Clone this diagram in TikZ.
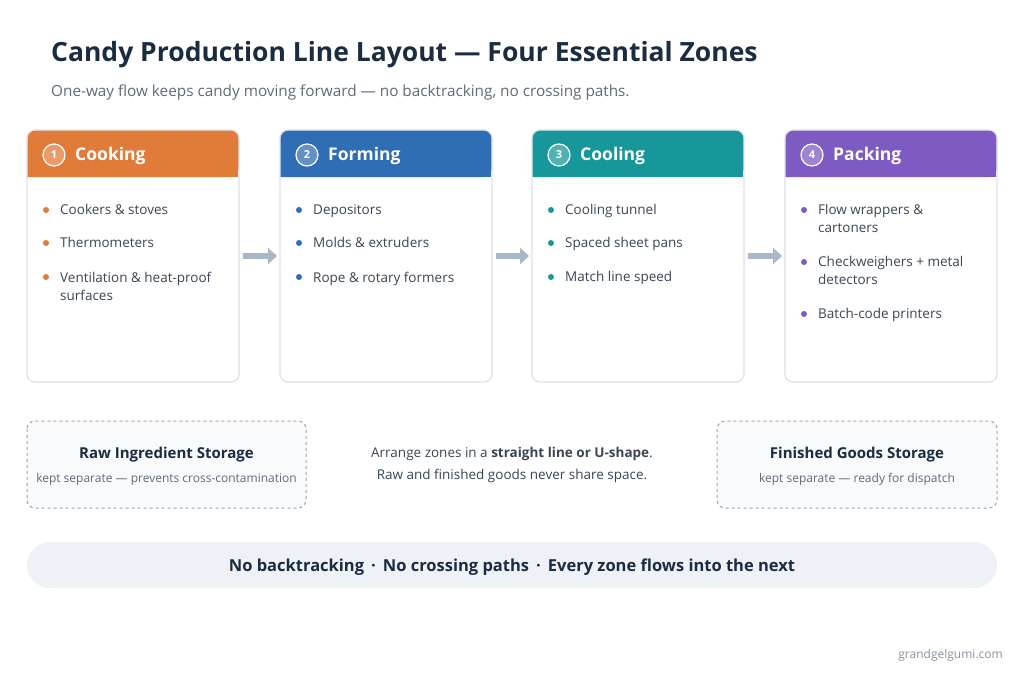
\documentclass[tikz,border=0pt]{standalone}
\usepackage{fontspec}
\setmainfont{Open Sans}
\usetikzlibrary{arrows.meta}
\definecolor{navy}{HTML}{1B2B40}
\definecolor{subgray}{HTML}{5F6B78}
\definecolor{txt}{HTML}{3A4654}
\definecolor{cookc}{HTML}{E07B39}
\definecolor{formc}{HTML}{2F6DB5}
\definecolor{coolc}{HTML}{17979A}
\definecolor{packc}{HTML}{7E5BC2}
\definecolor{edge}{HTML}{DCE2EA}
\definecolor{pill}{HTML}{EEF2F7}
\definecolor{arr}{HTML}{A9B8C8}
\newcommand{\fs}[2][1.2]{\fontsize{#2}{#1\dimexpr #2pt\relax}\selectfont}
\tikzset{
  card/.style={draw=edge, line width=1.2pt, rounded corners=8pt, fill=white},
  item/.style={anchor=west, text=txt, font=\fontsize{13.5}{18}\selectfont, align=left, inner sep=0pt},
  zonearrow/.style={-{Triangle[length=9pt,width=16pt]}, line width=6pt, draw=arr},
  store/.style={draw=arr!90!black, dashed, line width=1pt, rounded corners=8pt, fill=pill!40},
}
\begin{document}
\begin{tikzpicture}[x=1pt,y=-1pt]
\useasboundingbox (0,0) rectangle (1024,683);
\fill[white] (0,0) rectangle (1024,683);
% title
\node[anchor=west, text=navy, font=\fs{26.5}\bfseries, inner sep=0pt] (title) at (51,55) {Candy Production Line Layout — Four Essential Zones};
\node[anchor=west, text=subgray, font=\fs{15.3}, inner sep=0pt] (subtitle) at (51,92) {One-way flow keeps candy moving forward — no backtracking, no crossing paths.};
% zone cards
\foreach \x/\n/\name/\col in {27/1/Cooking/cookc, 280/2/Forming/formc, 532/3/Cooling/coolc, 785/4/Packing/packc} {
  \draw[card] (\x,130) rectangle ++(212,252);
  \fill[\col, rounded corners=8pt] (\x+0.6,130.6) -- (\x+211.4,130.6) -- (\x+211.4,177) [sharp corners] -- (\x+0.6,177) [rounded corners=8pt] -- cycle;
  \fill[\col, sharp corners] (\x+0.6,165) rectangle (\x+211.4,177);
  \node[circle, draw=white, line width=1.2pt, fill=white!25!\col, text=white, font=\fs{11}\bfseries, minimum size=22pt, inner sep=0pt] (num\n) at (\x+27,155) {\n};
  \node[anchor=west, text=white, font=\fs{17.5}\bfseries, inner sep=0pt] (head\n) at (\x+48,156) {\name};
}
% items
\foreach \x/\n/\col/\a/\ay/\b/\by/\c/\cy in {
  27/1/cookc/{Cookers \& stoves}/210/{Thermometers}/243/{Ventilation \& heat-proof\\surfaces}/277,
  280/2/formc/{Depositors}/210/{Molds \& extruders}/243/{Rope \& rotary formers}/277,
  532/3/coolc/{Cooling tunnel}/210/{Spaced sheet pans}/243/{Match line speed}/277,
  785/4/packc/{Flow wrappers \&\\cartoners}/210/{Checkweighers + metal\\detectors}/262/{Batch-code printers}/314} {
  \node[item, anchor=north west] (a\n) at (\x+33,\ay-5.5) {\a};
  \node[item, anchor=north west] (b\n) at (\x+33,\by-5.5) {\b};
  \node[item, anchor=north west] (c\n) at (\x+33,\cy-5.5) {\c};
  \foreach \yy in {\ay,\by,\cy} \fill[\col] (\x+19,\yy) circle (3pt);
}
% flow arrows
\coordinate (s1) at (243,256); \coordinate (e1) at (277,256);
\coordinate (s2) at (496,256); \coordinate (e2) at (529,256);
\coordinate (s3) at (748,256); \coordinate (e3) at (782,256);
\foreach \i in {1,2,3} \draw[zonearrow] (s\i) -- (e\i);
% storage
\draw[store] (27,421) rectangle (306,508);
\node[text=navy, font=\fs{15}\bfseries] (raw) at (166.5,455) {Raw Ingredient Storage};
\node[text=subgray, font=\fs{12}] (rawsub) at (166.5,479) {kept separate — prevents cross-contamination};
\draw[store] (717,421) rectangle (997,508);
\node[text=navy, font=\fs{15}\bfseries] (fin) at (857,455) {Finished Goods Storage};
\node[text=subgray, font=\fs{12}] (finsub) at (857,479) {kept separate — ready for dispatch};
\node[text=txt, font=\fontsize{13.5}{22}\selectfont, align=center] (note) at (512,465) {Arrange zones in a \textbf{straight line or U-shape}.\\Raw and finished goods never share space.};
% rules pill
\fill[pill, rounded corners=23pt] (27,542) rectangle (997,588);
\node[text=navy, font=\fs{16.5}\bfseries] (rules) at (512,567) {No backtracking \,·\, No crossing paths \,·\, Every zone flows into the next};
\node[anchor=east, text=arr!80!black, font=\fs{12}, inner sep=0pt] (site) at (1003,655) {grandgelgumi.com};
\end{tikzpicture}
\end{document}
